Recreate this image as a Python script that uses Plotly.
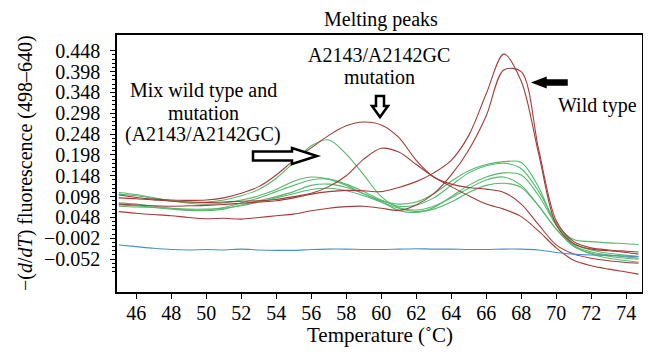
import plotly.graph_objects as go

# ---------------- data ----------------
temperature = [45, 46, 47, 48, 49, 50, 51, 52, 53, 54, 55, 56, 57, 58, 59, 60,
               61, 62, 63, 64, 65, 66, 67, 68, 69, 70, 71, 72, 73, 74, 74.7]

wild_type_1 = [0.080, 0.078, 0.076, 0.075, 0.076, 0.077, 0.079, 0.082, 0.085, 0.088,
               0.095, 0.104, 0.110, 0.113, 0.112, 0.110, 0.120, 0.134, 0.155, 0.185,
               0.245, 0.345, 0.440, 0.375, 0.200, 0.030, -0.015, -0.028, -0.032, -0.036, -0.040]
wild_type_2 = [0.062, 0.058, 0.055, 0.052, 0.048, 0.045, 0.046, 0.044, 0.048, 0.052,
               0.056, 0.064, 0.070, 0.074, 0.075, 0.070, 0.065, 0.078, 0.105, 0.150,
               0.210, 0.292, 0.402, 0.398, 0.210, 0.040, -0.010, -0.025, -0.030, -0.033, -0.035]
mutation_1 = [0.102, 0.096, 0.092, 0.090, 0.089, 0.090, 0.095, 0.106, 0.122, 0.150,
              0.185, 0.215, 0.245, 0.268, 0.277, 0.270, 0.240, 0.185, 0.145, 0.128,
              0.120, 0.116, 0.108, 0.080, 0.030, -0.018, -0.040, -0.050, -0.056, -0.060, -0.062]
mutation_2 = [0.095, 0.093, 0.090, 0.087, 0.085, 0.084, 0.085, 0.087, 0.088, 0.091,
              0.098, 0.106, 0.122, 0.148, 0.188, 0.214, 0.205, 0.175, 0.145, 0.122,
              0.100, 0.080, 0.068, 0.050, 0.015, -0.025, -0.055, -0.068, -0.076, -0.083, -0.088]
mixed_1 = [0.104, 0.100, 0.094, 0.088, 0.085, 0.085, 0.090, 0.100, 0.115, 0.142,
           0.180, 0.220, 0.234, 0.200, 0.150, 0.098, 0.072, 0.066, 0.075, 0.095,
           0.118, 0.138, 0.145, 0.125, 0.075, 0.020, -0.020, -0.035, -0.042, -0.047, -0.050]
mixed_2 = [0.108, 0.103, 0.095, 0.088, 0.082, 0.080, 0.083, 0.090, 0.100, 0.115,
           0.135, 0.145, 0.140, 0.125, 0.105, 0.088, 0.080, 0.085, 0.105, 0.135,
           0.160, 0.175, 0.182, 0.180, 0.120, 0.030, -0.005, -0.010, -0.013, -0.015, -0.017]
mixed_3 = [0.083, 0.080, 0.075, 0.070, 0.066, 0.066, 0.072, 0.083, 0.095, 0.110,
           0.125, 0.138, 0.140, 0.128, 0.110, 0.090, 0.075, 0.078, 0.095, 0.125,
           0.155, 0.172, 0.178, 0.165, 0.110, 0.035, -0.015, -0.030, -0.038, -0.043, -0.045]
mixed_4 = [0.078, 0.076, 0.072, 0.068, 0.065, 0.064, 0.068, 0.078, 0.088, 0.098,
           0.110, 0.125, 0.128, 0.120, 0.105, 0.085, 0.065, 0.060, 0.072, 0.098,
           0.125, 0.145, 0.155, 0.150, 0.100, 0.030, -0.020, -0.040, -0.050, -0.056, -0.059]
mixed_5 = [0.075, 0.073, 0.072, 0.070, 0.068, 0.068, 0.070, 0.076, 0.085, 0.095,
           0.105, 0.115, 0.118, 0.112, 0.100, 0.085, 0.070, 0.062, 0.068, 0.085,
           0.108, 0.125, 0.130, 0.120, 0.075, 0.020, -0.022, -0.038, -0.045, -0.050, -0.052]
no_template = [-0.018, -0.022, -0.026, -0.029, -0.030, -0.029, -0.030, -0.028, -0.030, -0.031,
               -0.031, -0.029, -0.028, -0.028, -0.029, -0.029, -0.028, -0.027, -0.028, -0.028,
               -0.029, -0.029, -0.028, -0.028, -0.030, -0.036, -0.040, -0.042, -0.043, -0.045, -0.046]

ytick_values = [0.448, 0.398, 0.348, 0.298, 0.248, 0.198, 0.148, 0.098, 0.048, -0.002, -0.052]
ytick_labels = ["0.448", "0.398", "0.348", "0.298", "0.248", "0.198", "0.148",
                "0.098", "0.048", "\u22120.002", "\u22120.052"]
xtick_values = [46, 48, 50, 52, 54, 56, 58, 60, 62, 64, 66, 68, 70, 72, 74]

# ---------------- styling ----------------
RED = "#a23c37"
GREEN = "#55b86e"
BLUE = "#4b90c0"
FONT = "'Liberation Serif', 'Times New Roman', Times, 'DejaVu Serif', serif"

series = [
    (mixed_1, GREEN), (mixed_2, GREEN), (mixed_3, GREEN), (mixed_4, GREEN), (mixed_5, GREEN),
    (wild_type_1, RED), (wild_type_2, RED), (mutation_1, RED), (mutation_2, RED),
    (no_template, BLUE),
]

fig = go.Figure()
for values, color in series:
    fig.add_trace(go.Scatter(x=temperature, y=values, mode="lines",
                             line=dict(color=color, width=1.1, shape="spline", smoothing=0.9),
                             showlegend=False, hoverinfo="skip"))

# The page body has an 8 px margin, so the figure starts 8 px in from the window edge.
OFF = 8
PAGE_W, PAGE_H = 651, 353
FIG_W, FIG_H = PAGE_W - OFF, PAGE_H - OFF

# plot-area frame in window pixels
L, R, T, B = 117, 642, 35, 292


def px(x):
    return (x - L) / (R - L)


def py(y):
    return (B - y) / (B - T)


def poly(points):
    return "M " + " L ".join(f"{px(x):.5f},{py(y):.5f}" for x, y in points) + " Z"


annotations = []


def text(s, x, y, size=20):
    annotations.append(dict(text=s, x=px(x), y=py(y), xref="paper", yref="paper",
                            showarrow=False, xanchor="center", yanchor="middle",
                            font=dict(family=FONT, size=size, color="black")))


text("Mix wild type and", 203, 90)
text("mutation", 203, 113)
text("(A2143/A2142GC)", 203, 135)
text("A2143/A2142GC", 379, 55)
text("mutation", 379, 77)
text("Wild type", 597, 105)
text("Melting peaks", 381, 19)
text("Temperature (\u02daC)", 380, 335, 21)
annotations.append(dict(text="\u2212(<i>d</i>/<i>dT</i>) fluorescence (498\u2013640)",
                        x=px(25), y=py(163), xref="paper", yref="paper", textangle=-90,
                        showarrow=False, xanchor="center", yanchor="middle",
                        font=dict(family=FONT, size=20, color="black")))

# block arrows
right_arrow = [(253, 151.5), (292, 151.5), (292, 148), (317, 156), (292, 164), (292, 160.5), (253, 160.5)]
down_arrow = [(376, 96), (384, 96), (384, 106), (388, 106), (380, 117), (372, 106), (376, 106)]
left_arrow = [(567, 80), (546, 80), (546, 77.5), (533, 82.5), (546, 87.5), (546, 85), (567, 85)]

shapes = [
    dict(type="path", path=poly(right_arrow), xref="paper", yref="paper",
         fillcolor="white", line=dict(color="black", width=2.5)),
    dict(type="path", path=poly(down_arrow), xref="paper", yref="paper",
         fillcolor="white", line=dict(color="black", width=2.5)),
    dict(type="path", path=poly(left_arrow), xref="paper", yref="paper",
         fillcolor="black", line=dict(color="black", width=1.5)),
]

minor_vals = [round(0.448 - 0.01 * i, 3) for i in range(0, 54)]

fig.update_layout(
    template="none",
    width=FIG_W, height=FIG_H,
    margin=dict(l=L - OFF, r=PAGE_W - R, t=T - OFF, b=PAGE_H - B, pad=0,
                autoexpand=False),
    paper_bgcolor="white", plot_bgcolor="white",
    font=dict(family=FONT, size=20, color="black"),
    annotations=annotations, shapes=shapes,
    xaxis=dict(range=[44.9, 74.9], tickmode="array", tickvals=xtick_values,
               ticks="outside", ticklen=5, tickwidth=1, tickcolor="black",
               showline=True, linecolor="black", linewidth=1.5, mirror=True,
               showgrid=False, zeroline=False, ticklabelstandoff=-3, automargin=False,
               tickfont=dict(family=FONT, size=20)),
    yaxis=dict(range=[-0.131, 0.486], tickmode="array", tickvals=ytick_values,
               ticktext=ytick_labels, ticks="outside", ticklen=5, tickwidth=1,
               tickcolor="black", showline=True, linecolor="black", linewidth=1.5,
               mirror=True, showgrid=False, zeroline=False, ticklabelstandoff=6,
               automargin=False, tickfont=dict(family=FONT, size=20),
               minor=dict(tickmode="array", tickvals=minor_vals, ticks="outside",
                          ticklen=3, tickcolor="black", showgrid=False)),
)

fig.write_html("out.html")
